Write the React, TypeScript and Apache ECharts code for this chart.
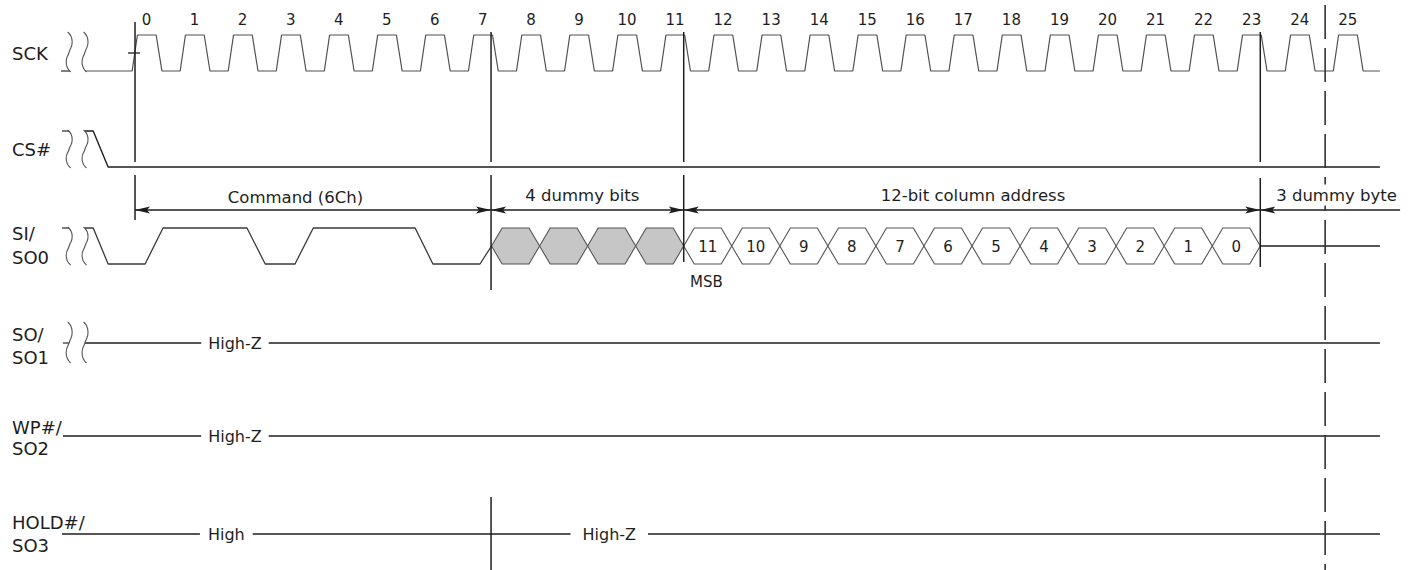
import { useEffect, useRef } from "react";
import * as echarts from "echarts";

const FONT = '"DejaVu Sans", "Noto Sans", sans-serif';
const INK = "#1e1e1e";
const WAVE = "#3a3a3a";

// Time axis in clock cycles, vertical axis in layout rows (px from top)
const T_MIN = -2.75;
const T_MAX = 26.7;
const Y_MAX = 570;

// ---- SCK ----
const CLOCK_CYCLES = [0, 1, 2, 3, 4, 5, 6, 7, 8, 9, 10, 11, 12, 13, 14, 15, 16, 17, 18, 19, 20, 21, 22, 23, 24, 25];
const CLOCK_SHAPE = [[0, 0], [0.11, 1], [0.5, 1], [0.62, 0]]; // one cycle: rise, high, fall
const CLOCK_LEAD = -0.98;
const CLOCK_TAIL = 25.97;
const CLOCK_LABEL_OFFSET = 0.3;

// ---- rows ----
const SCK_ROW = { high: 35, low: 71 };
const CS_ROW = { high: 131, low: 167 };
const SI_ROW = { high: 228, low: 264 };
const SO1_Y = 343;
const WP_Y = 436;
const HOLD_Y = 534;

// ---- waveforms (t, level 0..1) ----
const CS_WAVE = [[-0.98, 1], [-0.81, 1], [-0.5, 0], [25.97, 0]];
const SI_WAVE = [
  [-0.98, 1], [-0.81, 1], [-0.5, 0], [0.27, 0], [0.643, 1], [2.39, 1], [2.77, 0],
  [3.39, 0], [3.77, 1], [5.89, 1], [6.26, 0], [7.24, 0], [7.48, 0.5],
];
const SI_TAIL = [[23.48, 0.5], [25.97, 0.5]];
const FLAT_LINES = [
  { y: SO1_Y, from: -0.98, to: 25.97 },
  { y: WP_Y, from: -1.44, to: 25.97 },
  { y: HOLD_Y, from: -1.46, to: 25.97 },
];

// ---- break marks ----
const SQUIGGLE_T = [-1.31, -0.98];
const SQUIGGLE_ROWS = [[32, 72], [130, 168], [227, 265], [322, 363]];
const STUBS = [
  { y: 71, from: -1.48, to: -1.29 },
  { y: 131, from: -1.46, to: -1.31 },
  { y: 228, from: -1.46, to: -1.31 },
  { y: 343, from: -1.44, to: -1.31 },
];

// ---- data bits on SI/SO0 ----
const BIT_START = 7.48;
const DUMMY_BITS = ["", "", "", ""];
const ADDRESS_BITS = ["11", "10", "9", "8", "7", "6", "5", "4", "3", "2", "1", "0"];
const HEX_SLANT = 0.22;

// ---- vertical reference lines ----
const MARKERS = [
  { t: 0.06, spans: [[22, 162], [175, 220]] },
  { t: 7.47, spans: [[32, 162], [175, 290], [497, 570]] },
  { t: 11.48, spans: [[32, 162], [175, 262]] },
  { t: 23.48, spans: [[32, 162], [178, 267]] },
];
const DASHED = { t: 24.83, from: 5, to: 570 };
const TICK0 = { from: -0.085, to: 0.165, y: 53 };

// ---- dimension arrows ----
const ARROW_Y = 210;
const ARROWS = [
  [0.06, 7.47, 1, 1],
  [7.47, 11.48, 1, 1],
  [11.48, 23.48, 1, 1],
  [23.48, 26.39, 1, 0],
];
const ARROW_LABELS = [
  ["Command (6Ch)", 3.4, 197, "center", 0],
  ["4 dummy bits", 9.37, 195, "center", 0],
  ["12-bit column address", 17.5, 195, "center", 0],
  ["3 dummy byte", 23.79, 195, "left", 1],
];

// ---- texts ----
const SIGNAL_NAMES = [
  ["SCK", 53], ["CS#", 149], ["SI/", 233], ["SO0", 257], ["SO/", 334], ["SO1", 357],
  ["WP#/", 427], ["SO2", 448], ["HOLD#/", 522], ["SO3", 545],
];
const SIGNAL_NAME_T = -2.5;
const LEVEL_LABELS = [
  ["High-Z", 2.14, SO1_Y, 7],
  ["High-Z", 2.14, WP_Y, 7],
  ["High", 1.96, HOLD_Y, 8],
  ["High-Z", 9.93, HOLD_Y, 12],
];
const MSB_LABEL = ["MSB", 11.61, 282];
const CLOCK_LABEL_Y = 20;

function rowY(row: { high: number; low: number }, level: number) {
  return row.low - level * (row.low - row.high);
}

export default function App() {
  const ref = useRef<HTMLDivElement>(null);

  useEffect(() => {
    if (!ref.current) return;
    const chart = echarts.init(ref.current, undefined, { renderer: "svg" });

    const lineSeries = (data: number[][], opts: any = {}) => ({
      type: "line",
      data,
      symbol: "none",
      silent: true,
      animation: false,
      lineStyle: { color: opts.color || WAVE, width: opts.width || 1.3 },
      smooth: opts.smooth || false,
      z: opts.z || 2,
    });

    const sckData: number[][] = [[CLOCK_LEAD, rowY(SCK_ROW, 0)]];
    CLOCK_CYCLES.forEach((n) => {
      CLOCK_SHAPE.forEach(([dt, l]) => sckData.push([n + dt, rowY(SCK_ROW, l)]));
    });
    sckData.push([CLOCK_TAIL, rowY(SCK_ROW, 0)]);

    const series: any[] = [];
    series.push(lineSeries(sckData, { color: "#505050", width: 1.2 }));
    series.push(lineSeries(CS_WAVE.map(([t, l]) => [t, rowY(CS_ROW, l)]), { color: INK, width: 1.4 }));
    series.push(lineSeries(SI_WAVE.map(([t, l]) => [t, rowY(SI_ROW, l)])));
    series.push(lineSeries(SI_TAIL.map(([t, l]) => [t, rowY(SI_ROW, l)]), { color: INK }));
    FLAT_LINES.forEach((f) => series.push(lineSeries([[f.from, f.y], [f.to, f.y]], { color: INK, width: 1.4 })));
    STUBS.forEach((s) => series.push(lineSeries([[s.from, s.y], [s.to, s.y]])));
    series.push(lineSeries([[TICK0.from, TICK0.y], [TICK0.to, TICK0.y]], { color: INK }));

    // break marks
    const dt = 0.062;
    SQUIGGLE_ROWS.forEach(([top, bot]) => {
      const h = bot - top;
      SQUIGGLE_T.forEach((tc) => {
        series.push(
          lineSeries(
            [
              [tc - 0.03, top],
              [tc + dt, top + 0.25 * h],
              [tc, top + 0.5 * h],
              [tc - dt, top + 0.75 * h],
              [tc + 0.03, bot],
            ],
            { smooth: 0.6, color: "#555", width: 1.1 }
          )
        );
      });
    });

    // vertical markers
    const markerSegs: any[] = [];
    MARKERS.forEach((m) => m.spans.forEach((s) => markerSegs.push([m.t, s[0], s[1], 0])));
    markerSegs.push([DASHED.t, DASHED.from, DASHED.to, 1]);
    series.push({
      type: "custom",
      coordinateSystem: "cartesian2d",
      silent: true,
      z: 5,
      data: markerSegs,
      renderItem: (_p: any, api: any) => {
        const a = api.coord([api.value(0), api.value(1)]);
        const b = api.coord([api.value(0), api.value(2)]);
        const dashed = api.value(3) === 1;
        return {
          type: "line",
          shape: { x1: a[0], y1: a[1], x2: b[0], y2: b[1] },
          style: { stroke: dashed ? "#333" : INK, lineWidth: dashed ? 1.6 : 1.5, lineDash: dashed ? [34, 9] : null },
        };
      },
    });

    // hexagon data cells
    const hexes: { t0: number; t1: number; label: string; fill: string }[] = [];
    DUMMY_BITS.forEach((lbl, i) => hexes.push({ t0: BIT_START + i, t1: BIT_START + i + 1, label: lbl, fill: "#c6c6c6" }));
    ADDRESS_BITS.forEach((lbl, i) => {
      const t0 = BIT_START + DUMMY_BITS.length + i;
      hexes.push({ t0, t1: t0 + 1, label: lbl, fill: "#ffffff" });
    });
    series.push({
      type: "custom",
      coordinateSystem: "cartesian2d",
      silent: true,
      z: 3,
      data: hexes.map((h) => [h.t0, h.t1]),
      renderItem: (p: any, api: any) => {
        const h = hexes[p.dataIndex];
        const mid = (SI_ROW.high + SI_ROW.low) / 2;
        const pts = [
          api.coord([h.t0, mid]),
          api.coord([h.t0 + HEX_SLANT, SI_ROW.high]),
          api.coord([h.t1 - HEX_SLANT, SI_ROW.high]),
          api.coord([h.t1, mid]),
          api.coord([h.t1 - HEX_SLANT, SI_ROW.low]),
          api.coord([h.t0 + HEX_SLANT, SI_ROW.low]),
        ];
        const c = api.coord([(h.t0 + h.t1) / 2, mid]);
        const children: any[] = [
          { type: "polygon", shape: { points: pts }, style: { fill: h.fill, stroke: "#555", lineWidth: 1.1 } },
        ];
        if (h.label) {
          children.push({
            type: "text",
            x: c[0],
            y: c[1] + 1,
            style: {
              text: h.label, font: `15px ${FONT}`, fill: INK,
              align: "center", verticalAlign: "middle", textAlign: "center", textVerticalAlign: "middle",
            },
          });
        }
        return { type: "group", children };
      },
    });

    // dimension arrows
    series.push({
      type: "custom",
      coordinateSystem: "cartesian2d",
      silent: true,
      z: 4,
      data: ARROWS,
      renderItem: (_p: any, api: any) => {
        const a = api.coord([api.value(0), ARROW_Y]);
        const b = api.coord([api.value(1), ARROW_Y]);
        const L = 15, W2 = 3.5;
        const children: any[] = [
          { type: "line", shape: { x1: a[0], y1: a[1], x2: b[0], y2: b[1] }, style: { stroke: INK, lineWidth: 1.3 } },
        ];
        if (api.value(2) === 1) {
          children.push({
            type: "polygon",
            shape: { points: [[a[0], a[1]], [a[0] + L, a[1] - W2], [a[0] + L - 3, a[1]], [a[0] + L, a[1] + W2]] },
            style: { fill: INK },
          });
        }
        if (api.value(3) === 1) {
          children.push({
            type: "polygon",
            shape: { points: [[b[0], b[1]], [b[0] - L, b[1] - W2], [b[0] - L + 3, b[1]], [b[0] - L, b[1] + W2]] },
            style: { fill: INK },
          });
        }
        return { type: "group", children };
      },
    });

    // texts
    const texts: any[] = [];
    SIGNAL_NAMES.forEach(([s, y]) => texts.push({ text: s, t: SIGNAL_NAME_T, y, size: 18, align: "left" }));
    CLOCK_CYCLES.forEach((n) => texts.push({ text: String(n), t: n + CLOCK_LABEL_OFFSET, y: CLOCK_LABEL_Y, size: 15, align: "center" }));
    ARROW_LABELS.forEach(([s, t, y, al, bg]) => texts.push({ text: s, t, y, size: 16.5, align: al, pad: bg ? 1 : 0 }));
    LEVEL_LABELS.forEach(([s, t, y, pad]) => texts.push({ text: s, t, y, size: 16, align: "center", pad }));
    texts.push({ text: MSB_LABEL[0], t: MSB_LABEL[1], y: MSB_LABEL[2], size: 15, align: "left" });

    series.push({
      type: "custom",
      coordinateSystem: "cartesian2d",
      silent: true,
      z: 10,
      data: texts.map((d) => [d.t, d.y]),
      renderItem: (p: any, api: any) => {
        const d = texts[p.dataIndex];
        const c = api.coord([d.t, d.y]);
        const style: any = {
          text: d.text, font: `${d.size}px ${FONT}`, fill: INK,
          align: d.align, verticalAlign: "middle", textAlign: d.align, textVerticalAlign: "middle",
        };
        if (d.pad) {
          style.backgroundColor = "#ffffff";
          style.padding = [2, d.pad];
        }
        return { type: "text", x: c[0], y: c[1], style };
      },
    });

    chart.setOption({
      animation: false,
      backgroundColor: "#ffffff",
      grid: { left: 0, right: 0, top: 0, bottom: 0 },
      xAxis: { type: "value", min: T_MIN, max: T_MAX, show: false },
      yAxis: { type: "value", min: 0, max: Y_MAX, inverse: true, show: false },
      series,
    });

    return () => chart.dispose();
  }, []);

  return (
    <div
      ref={ref}
      style={{ position: "fixed", left: 0, top: 0, width: 1415, height: 570, background: "#fff" }}
    />
  );
}
